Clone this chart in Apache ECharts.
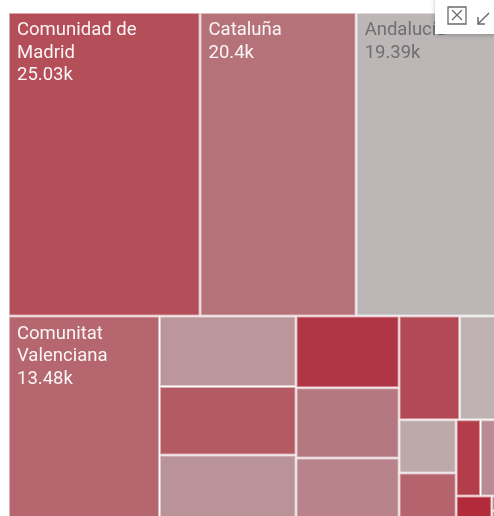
<!DOCTYPE html>
<html><head><meta charset="utf-8">
<script src="https://cdn.jsdelivr.net/npm/echarts@6/dist/echarts.min.js"></script>
<style>
html,body{margin:0;padding:0;overflow:hidden;background:#fff;width:494px;height:516px}
#c{width:520px;height:530px}
</style>
</head><body><div id="c"></div>
<script>
// Regions (only the four largest carry visible labels in the reference)
const regions = [
  "Comunidad de Madrid", "Cataluña", "Andalucía", "Comunitat Valenciana",
  "Castilla y León", "País Vasco", "Galicia",
  "Canarias", "Castilla-La Mancha", "Illes Balears",
  "Región de Murcia", "Aragón",
  "Principado de Asturias", "Extremadura",
  "Comunidad Foral de Navarra", "Cantabria",
  "La Rioja", "Ceuta", "Melilla"
];
const values = [
  25030, 20400, 19390, 13480,
  4140, 4030, 4020,
  3180, 3120, 2900,
  2700, 2000,
  1310, 1240,
  800, 790,
  420, 80, 70
];
const labelledRegions = ["Comunidad de Madrid", "Cataluña", "Andalucía", "Comunitat Valenciana"];

// styles
const cellColors = [
  "#b44f5a", "#b67279", "#bcb6b7", "#b5666f",
  "#bb979b", "#b45a63", "#ba9398",
  "#b03545", "#b67880", "#b8838a",
  "#b34954", "#beb2b3",
  "#bda8aa", "#b5636c",
  "#b33d4b", "#b98c93",
  "#b12b3b", "#b6707a", "#b98c93"
];
const darkText = { "Andalucía": "#6f6f6f" };

function tint(hex, t) {
  const n = parseInt(hex.slice(1), 16);
  const r = (n >> 16) & 255, g = (n >> 8) & 255, b = n & 255;
  const m = c => Math.round(c + (255 - c) * t);
  return "rgb(" + m(r) + "," + m(g) + "," + m(b) + ")";
}
function fmtK(v) { return parseFloat((v / 1000).toFixed(2)) + "k"; }

const chart = echarts.init(document.getElementById("c"), null, { renderer: "canvas" });
chart.setOption({
  animation: false,
  backgroundColor: "#fff",
  tooltip: { show: false },
  series: [{
    type: "treemap",
    left: 9, top: 13, width: 495, height: 510,
    roam: false, nodeClick: false, silent: true,
    breadcrumb: { show: false },
    visibleMin: 0,
    levels: [
      { itemStyle: { gapWidth: 1, borderWidth: 0, borderColor: "#fff" } },
      { itemStyle: { gapWidth: 0, borderWidth: 1 } }
    ],
    label: {
      show: true,
      position: "insideTopLeft",
      distance: 0,
      padding: [5, 8, 0, 7],
      fontFamily: "Roboto",
      fontSize: 18.5,
      lineHeight: 22.7,
      color: "rgba(255,255,255,0.94)",
      overflow: "break",
      formatter: p => p.name + "\n" + fmtK(p.value)
    },
    emphasis: { disabled: true },
    data: regions.map((name, i) => ({
      name: name,
      value: values[i],
      itemStyle: { color: cellColors[i], borderColor: tint(cellColors[i], 0.5), borderWidth: 1 },
      label: {
        show: labelledRegions.indexOf(name) >= 0,
        color: darkText[name] || "rgba(255,255,255,0.94)"
      }
    }))
  }],
  graphic: [
    { type: "rect", shape: { x: 435, y: -10, width: 90, height: 44 },
      style: { fill: "#fff", shadowBlur: 4, shadowColor: "rgba(0,0,0,0.25)", shadowOffsetY: 1 }, z: 100 },
    { type: "rect", shape: { x: 448, y: 7, width: 18, height: 17 },
      style: { fill: "none", stroke: "#6a6a6a", lineWidth: 1.3 }, z: 101 },
    { type: "polyline", shape: { points: [[452, 10], [462, 20]] }, style: { stroke: "#6a6a6a", lineWidth: 1.3 }, z: 101 },
    { type: "polyline", shape: { points: [[462, 10], [452, 20]] }, style: { stroke: "#6a6a6a", lineWidth: 1.3 }, z: 101 },
    { type: "polyline", shape: { points: [[489, 13], [478, 24]] }, style: { stroke: "#6a6a6a", lineWidth: 1.5 }, z: 101 },
    { type: "polyline", shape: { points: [[478, 17], [478, 24], [485, 24]] }, style: { stroke: "#6a6a6a", lineWidth: 1.5, fill: "none" }, z: 101 }
  ]
});
</script>
</body></html>
